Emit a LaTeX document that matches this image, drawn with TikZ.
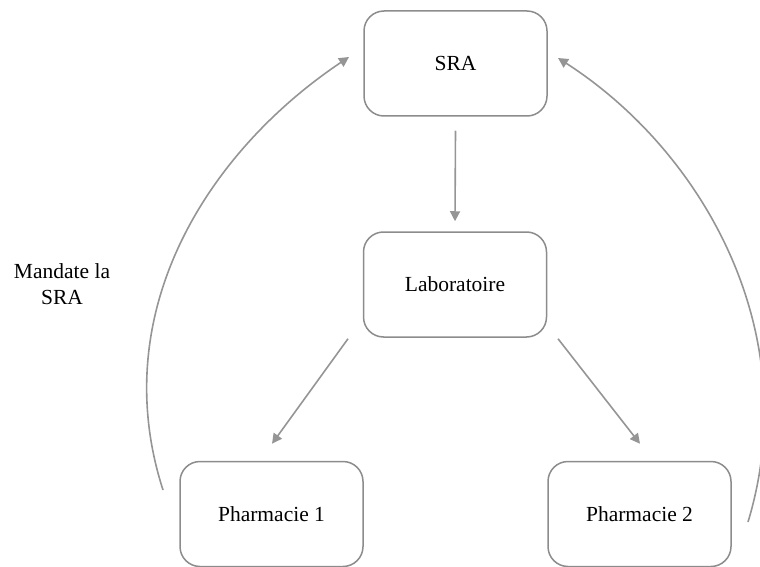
\documentclass[tikz,border=0pt]{standalone}
\usepackage{fontspec}
\setmainfont{Liberation Serif}
\usetikzlibrary{arrows.meta}
\definecolor{boxgray}{HTML}{8C8C8C}
\definecolor{linegray}{HTML}{959595}
\begin{document}
\begin{tikzpicture}[x=1pt,y=-1pt,
  box/.style={draw=boxgray, line width=1.5pt, rounded corners=20pt, fill=white,
    minimum width=183pt, minimum height=105pt, inner sep=0pt,
    font=\fontsize{21.5}{26}\selectfont, text=black},
  conn/.style={draw=linegray, line width=1.6pt, -{Triangle[length=10pt,width=10pt]}},
  lbl/.style={font=\fontsize{21.5}{26}\selectfont, align=center, text=black}]
\useasboundingbox (0,0) rectangle (760,567);
\clip (0,0) rectangle (760,567);
\node[box] (sra) at (455.5,63.5) {SRA};
\node[box] (lab) at (455,284.5) {Laboratoire};
\node[box] (ph1) at (271.5,514) {Pharmacie 1};
\node[box] (ph2) at (639.5,514) {Pharmacie 2};
\node[lbl] (mand) at (62,284) {Mandate la\\SRA};
\coordinate (sraL) at (349,57);
\coordinate (sraR) at (558,58);
\coordinate (p1s) at (163,490);
\coordinate (p2s) at (748,522);
\draw[conn] ([yshift=-14pt]sra.south) -- ([yshift=10pt]lab.north);
\draw[conn] ([xshift=-107pt,yshift=-1pt]lab.south) -- ([xshift=0.5pt,yshift=17pt]ph1.north);
\draw[conn] ([xshift=103pt,yshift=-1pt]lab.south) -- ([xshift=0.5pt,yshift=17pt]ph2.north);
\draw[conn] (p1s) .. controls (105,310) and (210,150) .. (sraL);
\draw[conn] (p2s) .. controls (806,330) and (701,150) .. (sraR);
\end{tikzpicture}
\end{document}
